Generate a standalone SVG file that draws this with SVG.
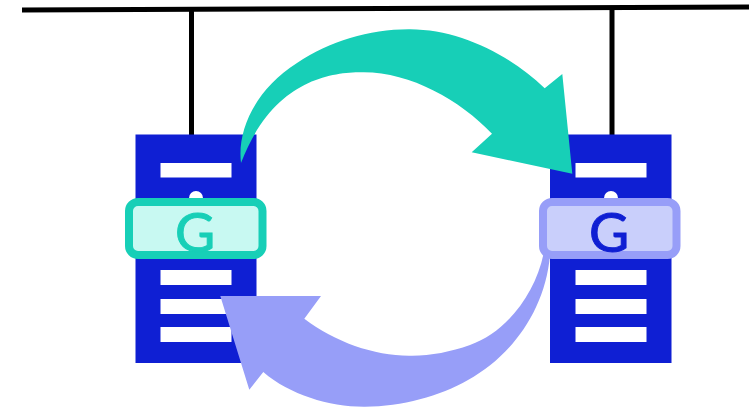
<svg xmlns="http://www.w3.org/2000/svg" width="749" height="408" viewBox="0 0 749 408">
<style>
.wire{stroke:#000;stroke-width:5;fill:none}
.body{fill:#0F1FD3}
.slot{fill:#fff}
.g{font-family:"Lato","Open Sans",sans-serif;font-size:55px;text-anchor:middle;stroke-width:1}
</style>
<rect width="749" height="408" fill="#fff"/>
<g id="bus"><path class="wire" d="M22 10L749 7"/></g>
<g id="server-left">
<path class="wire" d="M191.500 10V138"/>
<rect class="body" x="135.500" y="134.500" width="121" height="228.500"/>
<rect class="slot" x="160.500" y="163" width="71" height="14.500"/>
<circle class="slot" cx="196" cy="198" r="7"/>
<rect class="slot" x="160.500" y="270" width="71" height="15"/>
<rect class="slot" x="160.500" y="299" width="71" height="15"/>
<rect class="slot" x="160.500" y="327" width="71" height="15"/>
<rect x="129" y="202" width="133.500" height="53" rx="9" fill="#C8F9F2" stroke="#17CFB7" stroke-width="8"/>
<text class="g" x="195" y="252" fill="#17CFB7" stroke="#17CFB7">G</text>
</g>
<g id="server-right">
<path class="wire" d="M612 8V138"/>
<rect class="body" x="550" y="134.500" width="121.500" height="228.500"/>
<rect class="slot" x="575.500" y="163" width="71" height="14.500"/>
<circle class="slot" cx="611" cy="198" r="7"/>
<rect class="slot" x="575.500" y="270" width="71" height="15"/>
<rect class="slot" x="575.500" y="299" width="71" height="15"/>
<rect class="slot" x="575.500" y="327" width="71" height="15"/>
<rect x="543" y="202" width="133.500" height="53" rx="9" fill="#C9CFFB" stroke="#979EF8" stroke-width="8"/>
<text class="g" x="609" y="252" fill="#0F1FD3" stroke="#0F1FD3">G</text>
</g>
<g id="connectors">
<path fill="#17CFB7" d="M241 163C237 130 255 90 297 63C330 41 370 29 410 29.300C460 29.500 510 55 544.700 88.300L562.300 74L572.300 173.700L471.700 152.300L492 133.700C460 100 410 72 363 72.300C328 72 272 82 241 163Z"/>
<path fill="#979EF8" d="M550 255C545 312 510 357 468 380C440 396 402 406.700 365 406.700C330 407 290 395 263.300 372L249.300 389.700L220.300 296H321L304.300 318.700C335 342 375 356 410 355.700C430 356 450 352 470 345C505 333 535 295 543.500 254Z"/>
</g>
</svg>
